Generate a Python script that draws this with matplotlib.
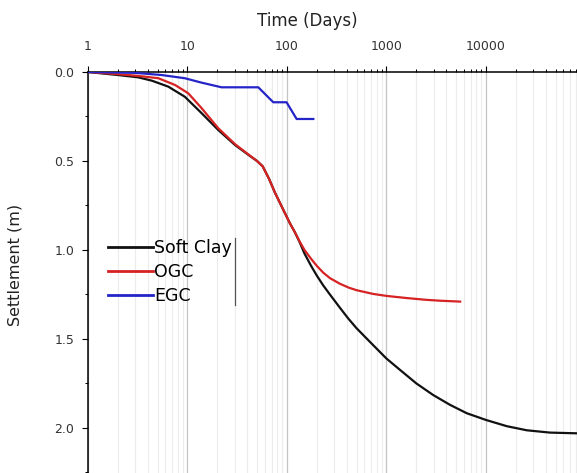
import matplotlib
matplotlib.use("Agg")
import matplotlib.pyplot as plt
from matplotlib.lines import Line2D
from matplotlib.ticker import LogLocator, FixedLocator, FixedFormatter, MultipleLocator, FormatStrFormatter

plt.rcParams['font.family'] = ['DejaVu Sans']

# Settlement vs time for the three cases
soft_clay_t = [1, 2.0, 3.2, 4.4, 6.4, 9.4, 13.9, 20.4, 30, 42, 50, 57, 66, 76, 92, 107, 120,
               135, 150, 175, 200, 232, 270, 341, 413, 501, 736, 1000, 1370, 2000, 2950, 4350,
               6400, 10000, 16200, 25700, 44000, 82000]
soft_clay_s = [0, 0.017, 0.03, 0.049, 0.082, 0.139, 0.232, 0.326, 0.41, 0.47, 0.50, 0.53, 0.60,
               0.68, 0.775, 0.85, 0.90, 0.96, 1.02, 1.09, 1.145, 1.2, 1.25, 1.325, 1.385, 1.44,
               1.535, 1.61, 1.674, 1.75, 1.815, 1.87, 1.917, 1.955, 1.99, 2.013, 2.026, 2.03]

ogc_t = [1, 2.0, 3.2, 5.1, 7.5, 10.2, 13.9, 20.4, 30, 42, 50, 57, 66, 76, 92, 107, 120, 135,
         150, 175, 200, 232, 270, 341, 420, 501, 736, 1000, 1590, 2500, 3460, 5500]
ogc_s = [0, 0.012, 0.022, 0.035, 0.073, 0.12, 0.204, 0.316, 0.405, 0.468, 0.50, 0.53, 0.60,
         0.68, 0.775, 0.85, 0.90, 0.955, 1.0, 1.05, 1.09, 1.128, 1.158, 1.19, 1.212, 1.226,
         1.247, 1.258, 1.27, 1.28, 1.285, 1.29]

egc_t = [1, 3, 5.5, 9.4, 13.9, 22, 51.5, 72.8, 99, 125, 184]
egc_s = [0, 0.005, 0.017, 0.035, 0.06, 0.086, 0.086, 0.17, 0.17, 0.264, 0.264]

x_ticks = [1, 10, 100, 1000, 10000]
x_tick_labels = ["1", "10", "100", "1000", "10000"]
y_ticks = [0.0, 0.5, 1.0, 1.5, 2.0]

W, H = 577, 473
fig = plt.figure(figsize=(W / 100, H / 100), dpi=100)
ax = fig.add_axes([88 / W, 0.0, 1 - 88 / W, 1 - 72 / H])

ax.set_xscale('log')
ax.set_xlim(1, 10 ** 4.915)
ax.set_ylim(2.253, 0.0)

# grid: faint lines at minor decades, darker at majors
ax.xaxis.set_minor_locator(LogLocator(base=10, subs=range(2, 10), numticks=20))
ax.grid(True, axis='x', which='minor', color='#ececec', lw=0.8)
ax.grid(True, axis='x', which='major', color='#c4c4c4', lw=0.9)
ax.set_axisbelow(True)

ax.plot(soft_clay_t, soft_clay_s, color='#111111', lw=1.6, label='Soft Clay', zorder=3)
ax.plot(ogc_t, ogc_s, color='#d62222', lw=1.6, label='OGC', zorder=4)
ax.plot(egc_t, egc_s, color='#2424c8', lw=1.6, label='EGC', zorder=5)

ax.xaxis.tick_top()
ax.xaxis.set_label_position('top')
ax.xaxis.set_major_locator(FixedLocator(x_ticks))
ax.xaxis.set_major_formatter(FixedFormatter(x_tick_labels))
ax.yaxis.set_major_locator(FixedLocator(y_ticks))
ax.yaxis.set_major_formatter(FormatStrFormatter('%.1f'))
ax.yaxis.set_minor_locator(MultipleLocator(0.25))

ax.tick_params(axis='both', which='major', direction='out', length=4, width=0.8,
               labelsize=9, labelcolor='#333333')
ax.tick_params(axis='both', which='minor', direction='out', length=2.5, width=0.7)
ax.tick_params(axis='x', which='both', top=True, bottom=False)
ax.tick_params(axis='x', which='major', pad=10)
ax.tick_params(axis='y', which='major', pad=6)

for side in ('bottom', 'right'):
    ax.spines[side].set_visible(False)
for side in ('top', 'left'):
    ax.spines[side].set_linewidth(1.1)

ax.set_xlabel('Time (Days)', fontsize=12, color='#222222')
ax.xaxis.label.set_va('center')
ax.xaxis.set_label_coords((307.5 - 88) / (W - 88), (H - 21) / (H - 72))
ax.set_ylabel('Settlement (m)', fontsize=11.5, color='#222222')
ax.yaxis.label.set_va('center')
ax.yaxis.set_label_coords((15 - 88) / (W - 88), (H - 265) / (H - 72))

leg = ax.legend(loc='upper left', bbox_to_anchor=(108 / W, 1 - 239 / H),
                bbox_transform=fig.transFigure, frameon=False, fontsize=12.5,
                handlelength=2.6, handletextpad=0.05, labelspacing=0.35,
                borderpad=0, borderaxespad=0)
for line in leg.get_lines():
    line.set_linewidth(2.0)

fig.add_artist(Line2D([234.5 / W, 234.5 / W], [1 - 238 / H, 1 - 305 / H],
                      transform=fig.transFigure, color='#555555', lw=0.9))

fig.savefig('out.png', dpi=100)
